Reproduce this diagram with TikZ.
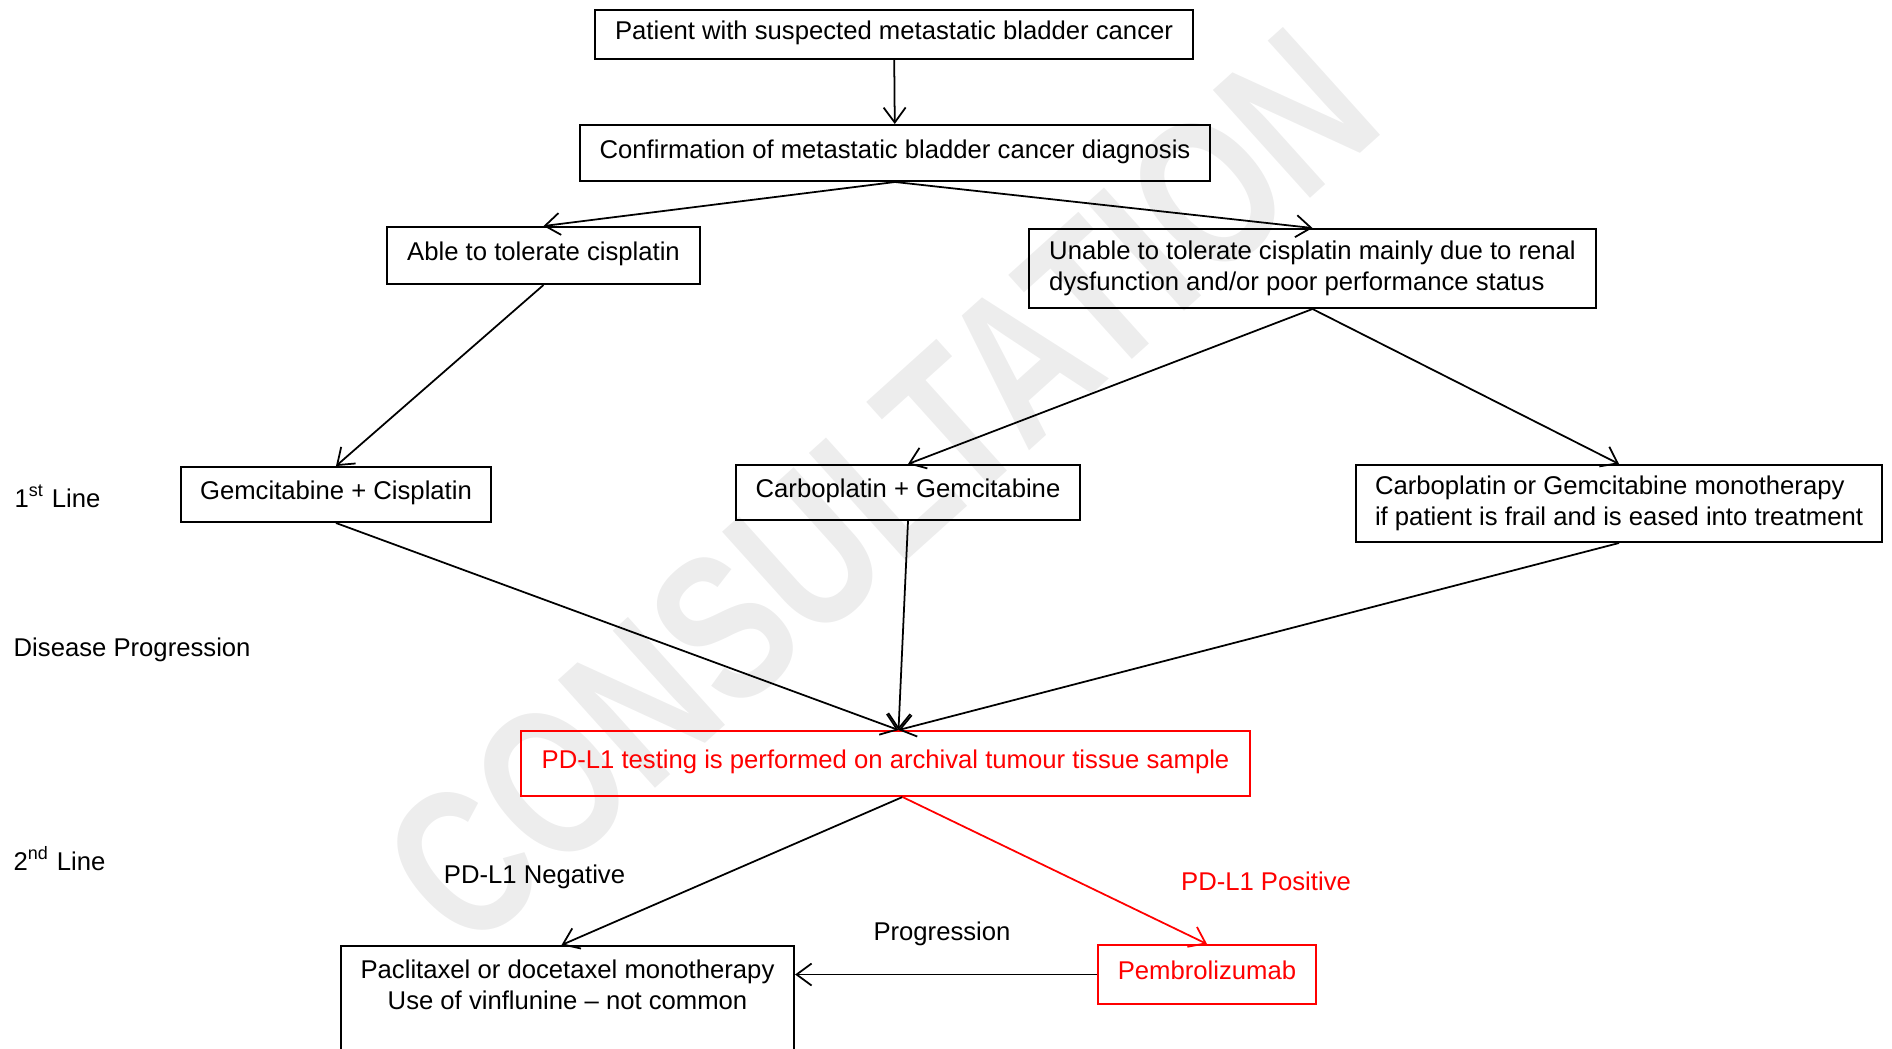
\documentclass[tikz,border=0pt]{standalone}
\usepackage{fontspec}
\setmainfont{Liberation Sans}
\usetikzlibrary{positioning,arrows.meta}

\begin{document}
\begin{tikzpicture}
      [x=0.01cm,y=-0.01cm,
       box/.style={draw=black,line width=0.55pt,inner sep=0pt,text height=5.5pt,text depth=2.5pt},
       twobox/.style={draw=black,line width=0.55pt,inner sep=0pt,align=left},
       redbox/.style={box,draw=red,text=red},
       lbl/.style={inner sep=0pt,text height=5.5pt,text depth=2.5pt},
       link/.style={-{Straight Barb[length=1.5mm,width=2.2mm]},line width=0.5pt},
       font=\fontsize{7.3}{8.9}\selectfont]
      \useasboundingbox (0,0) rectangle (1892,1048);
      \clip (0,0) rectangle (1892,1048);
      \node[rotate=42,xscale=0.76,text=black!7,font=\fontsize{60}{60}\selectfont\bfseries] (mark) at (880,488) {CONSULTATION};

      \node[box,minimum width=5.98cm,minimum height=0.49cm] (patient) at (894,34.5) {Patient with suspected metastatic bladder cancer};
      \node[box,minimum width=6.30cm,minimum height=0.56cm] (confirm) at (895,153) {Confirmation of metastatic bladder cancer diagnosis};
      \node[box,minimum width=3.13cm,minimum height=0.57cm] (able) at (543.5,255.5) {Able to tolerate cisplatin};
      \node[twobox,minimum width=5.67cm,minimum height=0.79cm] (unable) at (1312.5,268.5) {Unable to tolerate cisplatin mainly due to renal\\dysfunction and/or poor performance status};
      \node[box,minimum width=3.10cm,minimum height=0.55cm] (gemcis) at (336,494.5) {Gemcitabine + Cisplatin};
      \node[box,minimum width=3.44cm,minimum height=0.55cm] (carbogem) at (908,492.5) {Carboplatin + Gemcitabine};
      \node[twobox,minimum width=5.26cm,minimum height=0.77cm] (carbomono) at (1619,503.5) {Carboplatin or Gemcitabine monotherapy\\if patient is frail and is eased into treatment};
      \node[redbox,minimum width=7.29cm,minimum height=0.65cm] (pdl1) at (885.5,763.5) {PD-L1 testing is performed on archival tumour tissue sample};
      \node[redbox,minimum width=2.18cm,minimum height=0.59cm] (pembro) at (1207,974.5) {Pembrolizumab};
      \node[draw=black,line width=0.55pt,inner sep=0pt,minimum width=4.53cm,minimum height=1.3cm,anchor=north] (paclitaxel) at (567.5,945) {};
      \node[align=center,inner sep=0pt] (paclitext) at (567.5,984.5) {Paclitaxel or docetaxel monotherapy\\Use of vinflunine -- not common};

      \node[lbl,anchor=west] (firstline) at (14,502) {1\textsuperscript{st} Line};
      \node[lbl,anchor=west] (progress) at (13,651) {Disease Progression};
      \node[lbl,anchor=west] (secondline) at (13,865) {2\textsuperscript{nd} Line};
      \node[lbl] (neg) at (534.5,878) {PD-L1 Negative};
      \node[lbl,text=red] (pos) at (1266,885) {PD-L1 Positive};
      \node[lbl] (progr) at (942,935) {Progression};

      \draw[link] (patient) -- (confirm);
      \draw[link] (confirm.south) -- (able.north);
      \draw[link] (confirm.south) -- (unable.north);
      \draw[link] (able.south) -- (gemcis.north);
      \draw[link] (unable.south) -- (carbogem.north);
      \draw[link] (unable.south) -- (carbomono.north);
      \draw[link] (gemcis.south) -- ([xshift=0.13cm]pdl1.north);
      \draw[link] (carbogem.south) -- ([xshift=0.13cm]pdl1.north);
      \draw[link] (carbomono.south) -- ([xshift=0.13cm]pdl1.north);
      \draw[link] ([xshift=0.17cm]pdl1.south) -- ([xshift=-0.06cm]paclitaxel.north);
      \draw[link,red] ([xshift=0.17cm]pdl1.south) -- (pembro.north);
      \draw[link] (pembro) -- (pembro -| paclitaxel.east);
    \end{tikzpicture}
\end{document}
